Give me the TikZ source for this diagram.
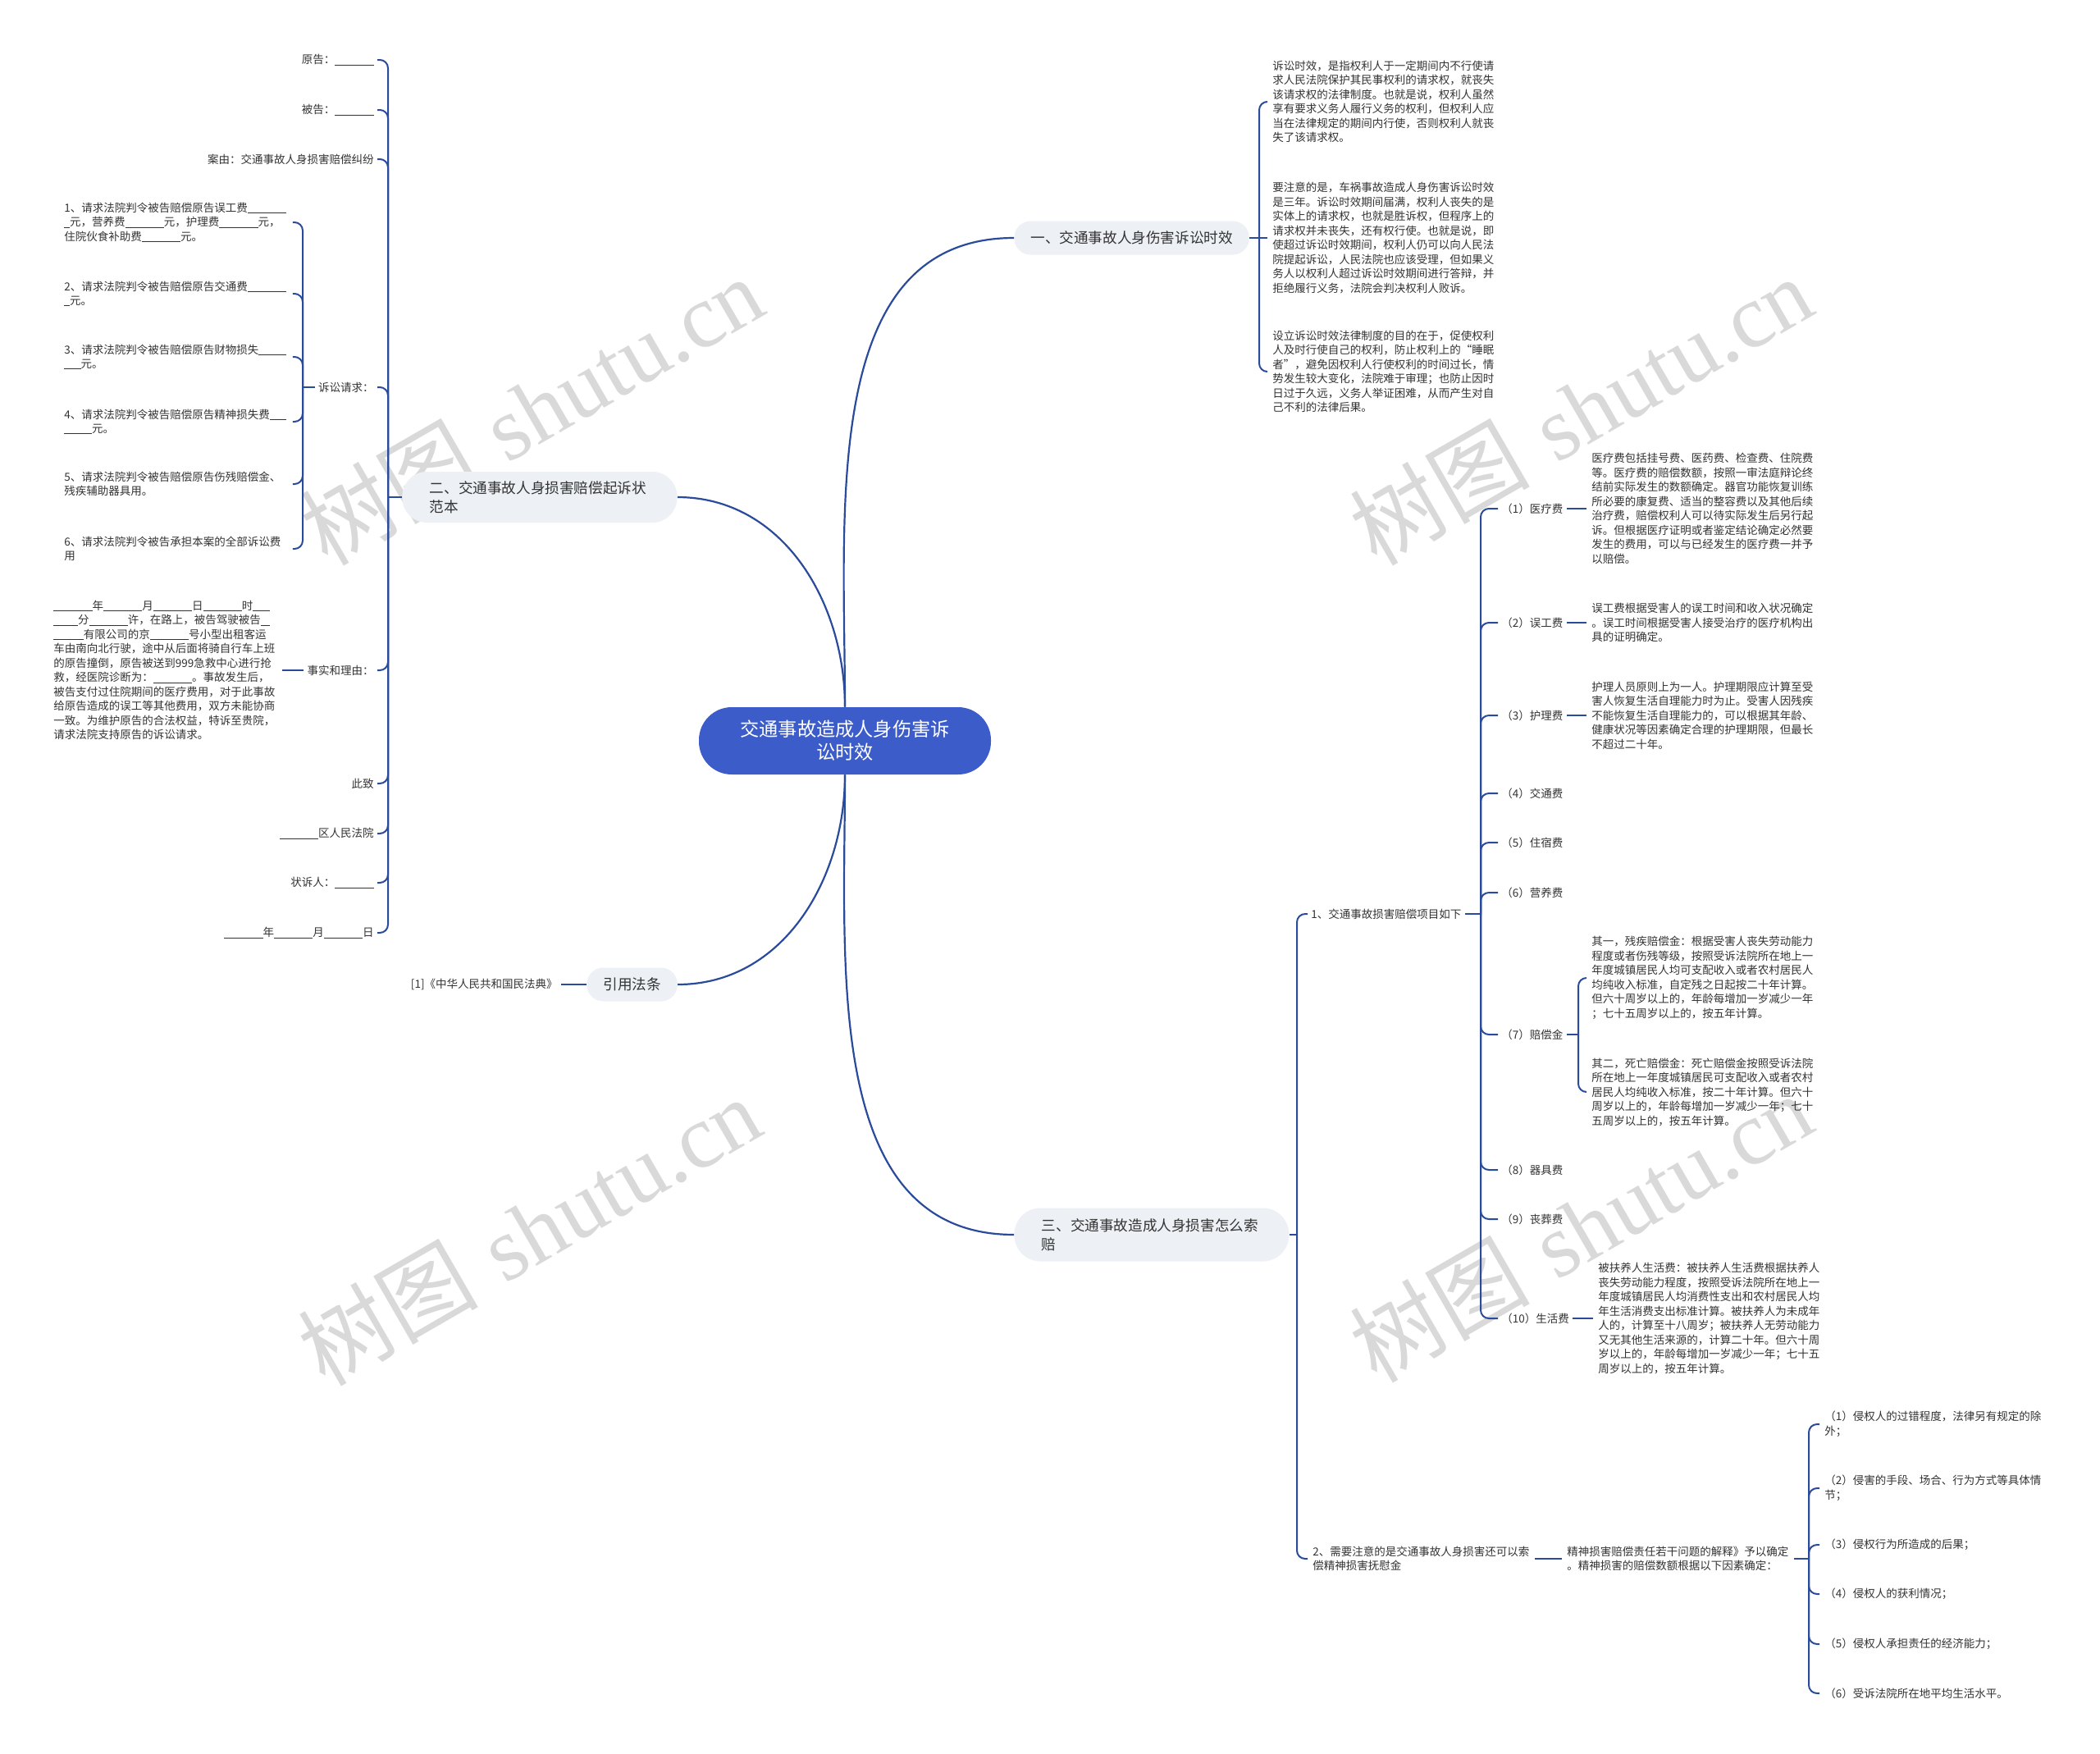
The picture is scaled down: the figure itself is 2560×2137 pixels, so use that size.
\documentclass[tikz,border=0pt]{standalone}
\usepackage{fontspec}
\setmainfont{Noto Sans CJK SC}
\newfontfamily\wmlatin{Liberation Serif}
\definecolor{linkblue}{HTML}{2A4B9B}
\definecolor{rootblue}{HTML}{3B5CC9}
\definecolor{topicgray}{HTML}{EDF0F4}
\definecolor{txtgray}{HTML}{333333}
\newcommand\lnblank[1]{\rule[-0.12em]{#1em}{0.06em}}

\tikzset{
  linkline/.style={draw=linkblue, line width=1pt, rounded corners=5pt},
  trunkline/.style={draw=linkblue, line width=1.1pt},
  rootnode/.style={fill=rootblue, text=white, rounded corners=20pt, minimum width=178pt,
    minimum height=41pt, align=center, font=\fontsize{11.6}{14}\selectfont},
  topicnode/.style={fill=topicgray, text=txtgray, rounded corners=10pt, minimum height=20.5pt,
    inner xsep=10pt, font=\fontsize{8.8}{11.5}\selectfont},
  leafnode/.style={text=txtgray, inner xsep=2pt, inner ysep=1pt, font=\fontsize{6.75}{8.75}\selectfont},
  parnode/.style={leafnode, align=left, inner xsep=3pt},
  wmark/.style={text=black!15, rotate=30, font=\fontsize{55}{55}\selectfont},
}

\begin{document}
\begin{tikzpicture}[x=0.5pt,y=-0.5pt]
\fill[white] (0,0) rectangle (2560,2137);
\useasboundingbox (0,0) rectangle (2560,2137);

% watermarks
\foreach \wx/\wy in {648/500,1927/500,645/1500,1927/1496}
  \node[wmark, name=wm-\wx-\wy] at (\wx,\wy) {树图\hspace{0.3em}{\wmlatin shutu.cn}};

% centre and main topics
\node[rootnode] (root) at (1030,903) {交通事故造成人身伤害诉\\讼时效};
\node[topicnode, anchor=west, minimum width=141pt] (b1) at (1236,290) {一、交通事故人身伤害诉讼时效};
\node[topicnode, anchor=west, minimum width=167.5pt, minimum height=31pt, rounded corners=15pt,
  text width=134pt, align=left] (b2) at (490,606) {二、交通事故人身损害赔偿起诉状\\范本};
\node[topicnode, anchor=west, minimum width=55pt] (b4) at (715,1200) {引用法条};
\node[topicnode, anchor=west, minimum width=167.5pt, minimum height=32.5pt, rounded corners=16pt,
  text width=134pt, align=left] (b3) at (1236,1505) {三、交通事故造成人身损害怎么索\\赔};

\draw[trunkline] (root.north) to[out=90,in=180] (b1.west);
\draw[trunkline] (root.north) to[out=90,in=0] (b2.east);
\draw[trunkline] (root.south) to[out=-90,in=0] (b4.east);
\draw[trunkline] (root.south) to[out=-90,in=180] (b3.west);

% branch one
\coordinate (j1) at (1535,290);
\node[parnode, anchor=west] (p1) at (1545,124) {诉讼时效，是指权利人于一定期间内不行使请\\求人民法院保护其民事权利的请求权，就丧失\\该请求权的法律制度。也就是说，权利人虽然\\享有要求义务人履行义务的权利，但权利人应\\当在法律规定的期间内行使，否则权利人就丧\\失了该请求权。};
\node[parnode, anchor=west] (p2) at (1545,290) {要注意的是，车祸事故造成人身伤害诉讼时效\\是三年。诉讼时效期间届满，权利人丧失的是\\实体上的请求权，也就是胜诉权，但程序上的\\请求权并未丧失，还有权行使。也就是说，即\\使超过诉讼时效期间，权利人仍可以向人民法\\院提起诉讼，人民法院也应该受理，但如果义\\务人以权利人超过诉讼时效期间进行答辩，并\\拒绝履行义务，法院会判决权利人败诉。};
\node[parnode, anchor=west] (p3) at (1545,453) {设立诉讼时效法律制度的目的在于，促使权利\\人及时行使自己的权利，防止权利上的“睡眠\\者”，避免因权利人行使权利的时间过长，情\\势发生较大变化，法院难于审理；也防止因时\\日过于久远，义务人举证困难，从而产生对自\\己不利的法律后果。};
\draw[linkline] (b1.east) -- (j1);
\draw[linkline] (j1) -- (p2.west);
\foreach \n in {p1,p3} \draw[linkline] (j1) |- (\n.west);

% branch two
\coordinate (j2) at (473,606);
\node[leafnode, anchor=east] (l1) at (460,73) {原告：\lnblank{3.5}};
\node[leafnode, anchor=east] (l2) at (460,134) {被告：\lnblank{3.5}};
\node[leafnode, anchor=east] (l3) at (460,194) {案由：交通事故人身损害赔偿纠纷};
\node[leafnode, anchor=east] (l4) at (460,472) {诉讼请求：};
\node[leafnode, anchor=east] (l5) at (460,817) {事实和理由：};
\node[leafnode, anchor=east] (l6) at (460,955) {此致};
\node[leafnode, anchor=east] (l7) at (460,1016) {\lnblank{3.5}区人民法院};
\node[leafnode, anchor=east] (l8) at (460,1076) {状诉人：\lnblank{3.5}};
\node[leafnode, anchor=east] (l9) at (460,1137) {\lnblank{3.5}年\lnblank{3.5}月\lnblank{3.5}日};
\draw[linkline] (b2.west) -- (j2);
\foreach \k in {1,...,9} \draw[linkline] (j2) |- (l\k.east);

\coordinate (j4) at (369,472);
\node[parnode, anchor=west, text width=136pt] (q1) at (72,271) {1、请求法院判令被告赔偿原告误工费\lnblank{3.5}\\\lnblank{0.5}元，营养费\lnblank{3.5}元，护理费\lnblank{3.5}元，\\住院伙食补助费\lnblank{3.5}元。};
\node[parnode, anchor=west, text width=136pt] (q2) at (72,358) {2、请求法院判令被告赔偿原告交通费\lnblank{3.5}\\\lnblank{0.5}元。};
\node[parnode, anchor=west, text width=136pt] (q3) at (72,435) {3、请求法院判令被告赔偿原告财物损失\lnblank{2.5}\\\lnblank{1.5}元。};
\node[parnode, anchor=west, text width=136pt] (q4) at (72,514) {4、请求法院判令被告赔偿原告精神损失费\lnblank{1.5}\\\lnblank{2.5}元。};
\node[parnode, anchor=west, text width=136pt] (q5) at (72,590) {5、请求法院判令被告赔偿原告伤残赔偿金、\\残疾辅助器具用。};
\node[parnode, anchor=west, text width=136pt] (q6) at (72,669) {6、请求法院判令被告承担本案的全部诉讼费\\用};
\draw[linkline] (l4.west) -- (j4);
\foreach \k in {1,...,6} \draw[linkline] (j4) |- (q\k.east);

\node[parnode, anchor=west, text width=136pt] (f1) at (59,817) {\lnblank{3.5}年\lnblank{3.5}月\lnblank{3.5}日\lnblank{3.5}时\lnblank{1.5}\\\lnblank{2.2}分\lnblank{3.5}许，在路上，被告驾驶被告\lnblank{0.8}\\\lnblank{2.7}有限公司的京\lnblank{3.5}号小型出租客运\\车由南向北行驶，途中从后面将骑自行车上班\\的原告撞倒，原告被送到999急救中心进行抢\\救，经医院诊断为：\lnblank{3.5}。事故发生后，\\被告支付过住院期间的医疗费用，对于此事故\\给原告造成的误工等其他费用，双方未能协商\\一致。为维护原告的合法权益，特诉至贵院，\\请求法院支持原告的诉讼请求。};
\draw[linkline] (l5.west) -- (f1.east);

% cited law
\node[leafnode, anchor=east] (law) at (684,1200) {[1]《中华人民共和国民法典》};
\draw[linkline] (law.east) -- (b4.west);

% branch three
\coordinate (j3) at (1581,1505);
\node[leafnode, anchor=west] (s1) at (1594,1114) {1、交通事故损害赔偿项目如下};
\node[parnode, anchor=west] (s2) at (1594,1900) {2、需要注意的是交通事故人身损害还可以索\\偿精神损害抚慰金};
\draw[linkline] (b3.east) -- (j3);
\foreach \n in {s1,s2} \draw[linkline] (j3) |- (\n.west);

\coordinate (j31) at (1805,1114);
\node[leafnode, anchor=west] (i1) at (1826,620) {（1）医疗费};
\node[leafnode, anchor=west] (i2) at (1826,759) {（2）误工费};
\node[leafnode, anchor=west] (i3) at (1826,872) {（3）护理费};
\node[leafnode, anchor=west] (i4) at (1826,967) {（4）交通费};
\node[leafnode, anchor=west] (i5) at (1826,1027) {（5）住宿费};
\node[leafnode, anchor=west] (i6) at (1826,1088) {（6）营养费};
\node[leafnode, anchor=west] (i7) at (1826,1261) {（7）赔偿金};
\node[leafnode, anchor=west] (i8) at (1826,1426) {（8）器具费};
\node[leafnode, anchor=west] (i9) at (1826,1486) {（9）丧葬费};
\node[leafnode, anchor=west] (i10) at (1826,1607) {（10）生活费};
\draw[linkline] (s1.east) -- (j31);
\foreach \k in {1,...,10} \draw[linkline] (j31) |- (i\k.west);

\node[parnode, anchor=west] (d1) at (1934,620) {医疗费包括挂号费、医药费、检查费、住院费\\等。医疗费的赔偿数额，按照一审法庭辩论终\\结前实际发生的数额确定。器官功能恢复训练\\所必要的康复费、适当的整容费以及其他后续\\治疗费，赔偿权利人可以待实际发生后另行起\\诉。但根据医疗证明或者鉴定结论确定必然要\\发生的费用，可以与已经发生的医疗费一并予\\以赔偿。};
\node[parnode, anchor=west] (d2) at (1934,759) {误工费根据受害人的误工时间和收入状况确定\\。误工时间根据受害人接受治疗的医疗机构出\\具的证明确定。};
\node[parnode, anchor=west] (d3) at (1934,872) {护理人员原则上为一人。护理期限应计算至受\\害人恢复生活自理能力时为止。受害人因残疾\\不能恢复生活自理能力的，可以根据其年龄、\\健康状况等因素确定合理的护理期限，但最长\\不超过二十年。};
\foreach \k in {1,2,3} \draw[linkline] (i\k.east) -- (d\k.west);

\coordinate (j7) at (1924,1261);
\node[parnode, anchor=west] (d7a) at (1934,1192) {其一，残疾赔偿金：根据受害人丧失劳动能力\\程度或者伤残等级，按照受诉法院所在地上一\\年度城镇居民人均可支配收入或者农村居民人\\均纯收入标准，自定残之日起按二十年计算。\\但六十周岁以上的，年龄每增加一岁减少一年\\；七十五周岁以上的，按五年计算。};
\node[parnode, anchor=west] (d7b) at (1934,1331) {其二，死亡赔偿金：死亡赔偿金按照受诉法院\\所在地上一年度城镇居民可支配收入或者农村\\居民人均纯收入标准，按二十年计算。但六十\\周岁以上的，年龄每增加一岁减少一年；七十\\五周岁以上的，按五年计算。};
\draw[linkline] (i7.east) -- (j7);
\foreach \n in {d7a,d7b} \draw[linkline] (j7) |- (\n.west);

\node[parnode, anchor=west] (d10) at (1942,1607) {被扶养人生活费：被扶养人生活费根据扶养人\\丧失劳动能力程度，按照受诉法院所在地上一\\年度城镇居民人均消费性支出和农村居民人均\\年生活消费支出标准计算。被扶养人为未成年\\人的，计算至十八周岁；被扶养人无劳动能力\\又无其他生活来源的，计算二十年。但六十周\\岁以上的，年龄每增加一岁减少一年；七十五\\周岁以上的，按五年计算。};
\draw[linkline] (i10.east) -- (d10.west);

\coordinate (jm) at (2205,1900);
\node[parnode, anchor=west] (m1) at (1904,1900) {精神损害赔偿责任若干问题的解释》予以确定\\。精神损害的赔偿数额根据以下因素确定：};
\draw[linkline] (s2.east) -- (m1.west);
\draw[linkline] (m1.east) -- (jm);
\node[parnode, anchor=west] (k1) at (2218,1736) {（1）侵权人的过错程度，法律另有规定的除\\外；};
\node[parnode, anchor=west] (k2) at (2218,1814) {（2）侵害的手段、场合、行为方式等具体情\\节；};
\node[parnode, anchor=west] (k3) at (2218,1883) {（3）侵权行为所造成的后果；};
\node[parnode, anchor=west] (k4) at (2218,1943) {（4）侵权人的获利情况；};
\node[parnode, anchor=west] (k5) at (2218,2004) {（5）侵权人承担责任的经济能力；};
\node[parnode, anchor=west] (k6) at (2218,2064) {（6）受诉法院所在地平均生活水平。};
\foreach \k in {1,...,6} \draw[linkline] (jm) |- (k\k.west);
\end{tikzpicture}
\end{document}
